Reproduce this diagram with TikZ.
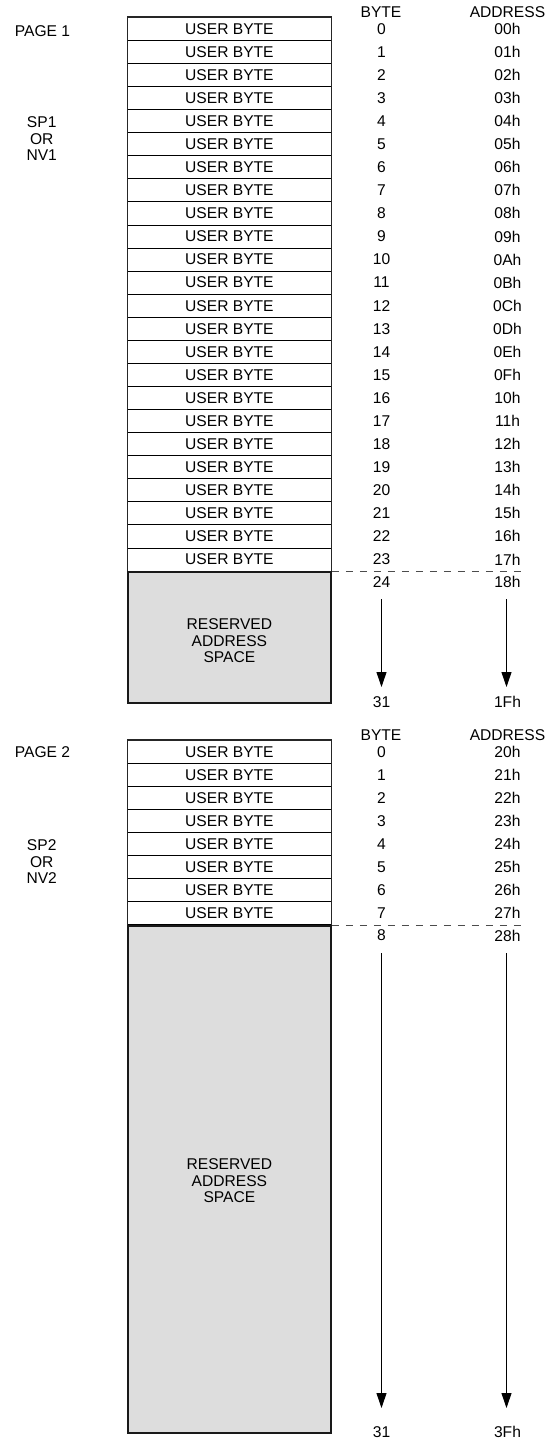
\documentclass[tikz,border=0pt]{standalone}
\usepackage{fontspec}
\setmainfont{Liberation Sans}
\usetikzlibrary{arrows.meta}
\definecolor{resgray}{RGB}{221,221,221}
\begin{document}
\begin{tikzpicture}[x=1pt,y=-1pt,
  txt/.style={font=\fontsize{15.6}{16.5}\selectfont, inner sep=0pt, align=center},
  cell/.style={draw=black, line width=0.8pt, minimum width=203.3pt, minimum height=23.07pt, inner sep=0pt, font=\fontsize{15.6}{16.5}\selectfont},
  outer/.style={draw=black!85, line width=1.3pt},
  resv/.style={draw=black!90, line width=1.6pt, fill=resgray},
  dashline/.style={draw=black!70, line width=0.8pt, dash pattern=on 7pt off 7pt},
  arr/.style={draw=black, line width=0.9pt, -{Triangle[length=15pt,width=10pt]}}]
\useasboundingbox (0,0) rectangle (553,1443);
% ---------------- PAGE 1 ----------------
\node[txt] (hb1) at (381,11.7) {BYTE};
\node[txt] (ha1) at (507.5,11.7) {ADDRESS};
\node[txt] (pg1) at (42.5,30.7) {PAGE 1};
\node[txt] (sp1) at (41.7,139) {SP1\\OR\\NV1};
\foreach \i/\a in {0/00h,1/01h,2/02h,3/03h,4/04h,5/05h,6/06h,7/07h,8/08h,9/09h,10/0Ah,11/0Bh,12/0Ch,13/0Dh,14/0Eh,15/0Fh,16/10h,17/11h,18/12h,19/13h,20/14h,21/15h,22/16h,23/17h}{
  \node[cell] (pa\i) at (229.4,{17.3+(\i+0.5)*23.07}) {USER BYTE};
  \node[txt] (ba\i) at (381.5,{17.3+(\i+0.5)*23.07}) {\i};
  \node[txt] (aa\i) at (507.5,{17.3+(\i+0.5)*23.07}) {\a};
}
\draw[outer] (pa0.north west) rectangle (pa23.south east);
\node[resv, minimum width=203.3pt, minimum height=131pt, anchor=north, inner sep=0pt] (ra) at (229.4,571) {};
\node[txt] (rat) at (229.4,641) {RESERVED\\ADDRESS\\SPACE};
\coordinate (da) at (525,571);
\draw[dashline] (ra.north east) -- (da);
\node[txt] (ba24) at (381.5,581.7) {24};
\node[txt] (aa24) at (507.5,581.7) {18h};
\coordinate (sa1) at (381.5,599);
\coordinate (ea1) at (381.5,687);
\coordinate (sa2) at (506.5,599);
\coordinate (ea2) at (506.5,687);
\draw[arr] (sa1) -- (ea1);
\draw[arr] (sa2) -- (ea2);
\node[txt] (ba31) at (381.5,701.7) {31};
\node[txt] (aa31) at (507.5,701.7) {1Fh};
% ---------------- PAGE 2 ----------------
\node[txt] (hb2) at (381,734.7) {BYTE};
\node[txt] (ha2) at (507.5,734.7) {ADDRESS};
\node[txt] (pg2) at (42.5,752) {PAGE 2};
\node[txt] (sp2) at (41.7,862) {SP2\\OR\\NV2};
\foreach \i/\a in {0/20h,1/21h,2/22h,3/23h,4/24h,5/25h,6/26h,7/27h}{
  \node[cell] (pb\i) at (229.4,{740.3+(\i+0.5)*23.07}) {USER BYTE};
  \node[txt] (bb\i) at (381.5,{740.3+(\i+0.5)*23.07}) {\i};
  \node[txt] (ab\i) at (507.5,{740.3+(\i+0.5)*23.07}) {\a};
}
\draw[outer] (pb0.north west) rectangle (pb7.south east);
\node[resv, minimum width=203.3pt, minimum height=507.1pt, anchor=north, inner sep=0pt] (rb) at (229.4,924.9) {};
\node[txt] (rbt) at (229.4,1181) {RESERVED\\ADDRESS\\SPACE};
\coordinate (db) at (525,924.9);
\draw[dashline] (rb.north east) -- (db);
\node[txt] (bb8) at (381.5,935.6) {8};
\node[txt] (ab8) at (507.5,935.6) {28h};
\coordinate (sb1) at (381.5,953);
\coordinate (eb1) at (381.5,1408);
\coordinate (sb2) at (506.5,953);
\coordinate (eb2) at (506.5,1408);
\draw[arr] (sb1) -- (eb1);
\draw[arr] (sb2) -- (eb2);
\node[txt] (bb31) at (381.5,1431.7) {31};
\node[txt] (ab31) at (507.5,1431.7) {3Fh};
\end{tikzpicture}
\end{document}
